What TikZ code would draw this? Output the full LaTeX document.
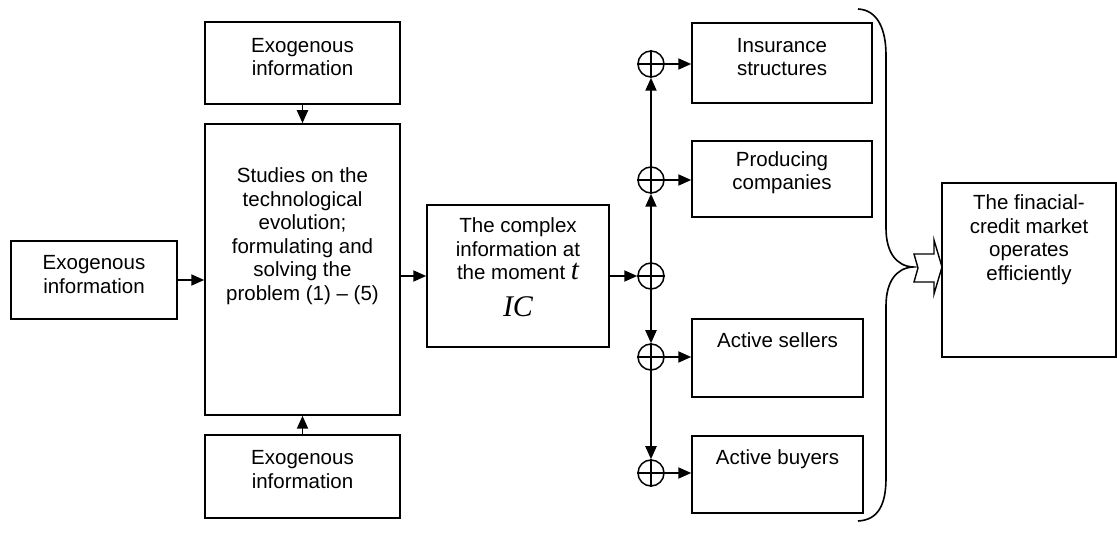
\documentclass[tikz,border=0pt]{standalone}
\usepackage{fontspec}
\setmainfont{Liberation Sans}
\newfontfamily\timesfont{Liberation Serif}
\usetikzlibrary{arrows.meta,positioning}

\tikzset{
blk/.style={draw, line width=1.5pt, inner sep=0pt},
txt/.style={anchor=north, align=center, inner sep=0pt, font=\fontsize{20.5}{23.5}\selectfont},
sum/.style={draw, circle, line width=1.5pt, minimum size=26pt, inner sep=0pt},
flow/.style={line width=1.9pt, -{Triangle[length=13pt,width=11pt]}}
}

\begin{document}
\begin{tikzpicture}[x=1pt,y=-1pt]
\useasboundingbox (0,0) rectangle (1117,534);
\draw (94,280) node[blk, minimum width=166, minimum height=78] (exoL) {}
(302.5,63) node[blk, minimum width=195, minimum height=82] (exoT) {}
(302.5,269.5) node[blk, minimum width=195, minimum height=291] (study) {}
(302.5,476.5) node[blk, minimum width=195, minimum height=83] (exoB) {}
(518,276) node[blk, minimum width=182, minimum height=142] (cplx) {}
(782,63) node[blk, minimum width=180, minimum height=80] (ins) {}
(782,179) node[blk, minimum width=180, minimum height=76] (prod) {}
(777.5,358) node[blk, minimum width=171, minimum height=78] (sell) {}
(777.5,474.5) node[blk, minimum width=171, minimum height=77] (buy) {}
(1029,270) node[blk, minimum width=174, minimum height=174] (fin) {};
%texts
\draw node[txt] (tExoL) at (94,255.5) {Exogenous\\information};
\draw node[txt] (tExoT) at (302.5,38) {Exogenous\\information};
\draw node[txt] (tStudy) at (302.5,167.5) {Studies on the\\technological\\evolution;\\formulating and\\solving the\\problem (1) -- (5)};
\draw node[txt] (tExoB) at (302.5,450.5) {Exogenous\\information};
\draw node[txt] (tCplx) at (518,217.5) {The complex\\information at\\the moment {\timesfont\itshape\fontsize{29}{29}\selectfont t}\\[13pt]{\timesfont\itshape\fontsize{30}{30}\selectfont IC}};
\draw node[txt] (tIns) at (782,38) {Insurance\\structures};
\draw node[txt] (tProd) at (782,151) {Producing\\companies};
\draw node[txt] (tSell) at (777.5,332.5) {Active sellers};
\draw node[txt] (tBuy) at (777.5,449.5) {Active buyers};
\draw node[txt] (tFin) at (1029,194.5) {The finacial-\\credit market\\operates\\efficiently};
%summing points
\draw (651,276) node[sum] (s0) {}
(651,180) node[sum] (s1) {}
(651,64) node[sum] (s2) {}
(651,357) node[sum] (s3) {}
(651,473) node[sum] (s4) {};
\foreach \s in {s0,s1,s2,s3,s4}
\draw[line width=1.3pt] (\s.north) -- (\s.south) (\s.west) -- (\s.east);
%horizontal
\draw[flow] (exoL.east) -- (exoL.east -| study.west);
\draw[flow] (study.east |- cplx.west) -- (cplx.west);
\draw[flow] (cplx.east) -- (s0.west);
\draw[flow] (s1.east) -- (s1.east -| prod.west);
\draw[flow] (s2.east) -- (s2.east -| ins.west);
\draw[flow] (s3.east) -- (s3.east -| sell.west);
\draw[flow] (s4.east) -- (s4.east -| buy.west);
%vertical
\draw[flow] (exoT) -- (study);
\draw[flow] (exoB) -- (study);
\draw[flow] (s0) -- (s1);
\draw[flow] (s1) -- (s2);
\draw[flow] (s0) -- (s3);
\draw[flow] (s3) -- (s4);
%brace and block arrow
\draw[line width=1.6pt] (858,9) .. controls (878,10) and (886,30) .. (886,55) -- (886,228)
.. controls (886,252) and (896,266) .. (913,267) .. controls (896,268) and (886,282) .. (886,306)
-- (886,478) .. controls (886,505) and (878,520) .. (858,521);
\draw[line width=1.4pt, fill=white] (914,254) -- (934,254) -- (934,240) -- (942,267) -- (934,294)
-- (934,282) -- (914,282) -- (918,268) -- cycle;
\end{tikzpicture}
\end{document}
